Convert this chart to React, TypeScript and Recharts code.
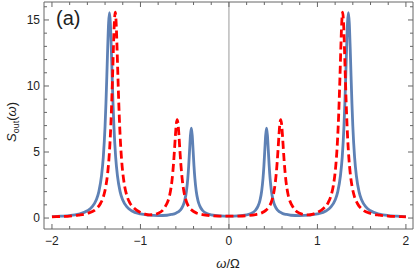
import React from 'react';
import { LineChart, Line, XAxis, YAxis, ReferenceLine } from 'recharts';

// ---- data ----
const blueOmega = [
  -2, -1.9, -1.8, -1.7, -1.6, -1.55, -1.5, -1.47, -1.44, -1.42,
  -1.4, -1.39, -1.38, -1.37, -1.36, -1.35, -1.34, -1.33, -1.32, -1.31,
  -1.3, -1.28, -1.26, -1.23, -1.2, -1.15, -1.1, -1.0, -0.9, -0.8,
  -0.7, -0.65, -0.6, -0.55, -0.52, -0.5, -0.48, -0.465, -0.455, -0.445,
  -0.435, -0.425, -0.415, -0.405, -0.395, -0.385, -0.37, -0.35, -0.33, -0.3,
  -0.25, -0.2, -0.1, 0,
  0.1, 0.2, 0.25, 0.3, 0.33, 0.35, 0.37, 0.385, 0.395, 0.405,
  0.415, 0.425, 0.435, 0.445, 0.455, 0.465, 0.48, 0.5, 0.52, 0.55,
  0.6, 0.65, 0.7, 0.8, 0.9, 1.0, 1.1, 1.15, 1.2, 1.23,
  1.26, 1.28, 1.3, 1.31, 1.32, 1.33, 1.34, 1.35, 1.36, 1.37,
  1.38, 1.39, 1.4, 1.42, 1.44, 1.47, 1.5, 1.55, 1.6, 1.7,
  1.8, 1.9, 2.0,
];
const blueS = [
  0.10, 0.14, 0.19, 0.30, 0.55, 0.82, 1.36, 2.0, 3.2, 4.6,
  6.95, 8.67, 10.74, 12.94, 14.76, 15.55, 14.77, 12.95, 10.75, 8.68,
  6.96, 4.6, 3.2, 2.0, 1.36, 0.82, 0.55, 0.31, 0.22, 0.19,
  0.21, 0.27, 0.37, 0.6, 0.92, 1.32, 2.05, 3.0, 3.93, 5.12,
  6.26, 6.8, 6.26, 5.12, 3.93, 3.0, 2.05, 1.32, 0.92, 0.59,
  0.34, 0.24, 0.16, 0.14,
  0.16, 0.24, 0.34, 0.59, 0.92, 1.32, 2.05, 3.0, 3.93, 5.12,
  6.26, 6.8, 6.26, 5.12, 3.93, 3.0, 2.05, 1.32, 0.92, 0.6,
  0.37, 0.27, 0.21, 0.19, 0.22, 0.31, 0.55, 0.82, 1.36, 2.0,
  3.2, 4.6, 6.96, 8.68, 10.75, 12.95, 14.77, 15.55, 14.76, 12.94,
  10.74, 8.67, 6.95, 4.6, 3.2, 2.0, 1.36, 0.82, 0.55, 0.30,
  0.19, 0.14, 0.10,
];
const redOmega = [
  -2, -1.9, -1.8, -1.7, -1.6, -1.5, -1.45, -1.42, -1.39, -1.37,
  -1.355, -1.345, -1.335, -1.325, -1.315, -1.305, -1.295, -1.285, -1.275, -1.265,
  -1.255, -1.245, -1.235, -1.225, -1.215, -1.2, -1.18, -1.15, -1.12, -1.07,
  -1.0, -0.95, -0.9, -0.85, -0.8, -0.75, -0.72, -0.69, -0.67, -0.655,
  -0.645, -0.635, -0.625, -0.615, -0.605, -0.595, -0.585, -0.575, -0.565, -0.555,
  -0.545, -0.535, -0.525, -0.515, -0.5, -0.48, -0.45, -0.42, -0.37, -0.3,
  -0.2, -0.1, 0,
  0.1, 0.2, 0.3, 0.37, 0.42, 0.45, 0.48, 0.5, 0.515, 0.525,
  0.535, 0.545, 0.555, 0.565, 0.575, 0.585, 0.595, 0.605, 0.615, 0.625,
  0.635, 0.645, 0.655, 0.67, 0.69, 0.72, 0.75, 0.8, 0.85, 0.9,
  0.95, 1.0, 1.07, 1.12, 1.15, 1.18, 1.2, 1.215, 1.225, 1.235,
  1.245, 1.255, 1.265, 1.275, 1.285, 1.295, 1.305, 1.315, 1.325, 1.335,
  1.345, 1.355, 1.37, 1.39, 1.42, 1.45, 1.5, 1.6, 1.7, 1.8,
  1.9, 2.0,
];
const redS = [
  0.09, 0.12, 0.15, 0.22, 0.35, 0.69, 1.12, 1.59, 2.45, 3.43,
  4.57, 5.62, 6.98, 8.70, 10.77, 12.98, 14.81, 15.6, 14.83, 13.0,
  10.79, 8.72, 7.0, 5.64, 4.59, 3.45, 2.47, 1.62, 1.15, 0.74,
  0.42, 0.3, 0.24, 0.26, 0.36, 0.58, 0.87, 1.27, 1.73, 2.27,
  2.76, 3.41, 4.22, 5.21, 6.26, 7.12, 7.45, 7.11, 6.25, 5.2,
  4.21, 3.4, 2.75, 2.25, 1.70, 1.23, 0.82, 0.6, 0.39, 0.26,
  0.18, 0.15, 0.14,
  0.15, 0.18, 0.26, 0.39, 0.6, 0.82, 1.23, 1.70, 2.25, 2.75,
  3.4, 4.21, 5.2, 6.25, 7.11, 7.45, 7.12, 6.26, 5.21, 4.22,
  3.41, 2.76, 2.27, 1.73, 1.27, 0.87, 0.58, 0.36, 0.26, 0.24,
  0.3, 0.42, 0.74, 1.15, 1.62, 2.47, 3.45, 4.59, 5.64, 7.0,
  8.72, 10.79, 13.0, 14.83, 15.6, 14.81, 12.98, 10.77, 8.70, 6.98,
  5.62, 4.57, 3.43, 2.45, 1.59, 1.12, 0.69, 0.35, 0.22, 0.15,
  0.12, 0.09,
];

const xTicks = [-2, -1.8, -1.6, -1.4, -1.2, -1, -0.8, -0.6, -0.4, -0.2, 0, 0.2, 0.4, 0.6, 0.8, 1, 1.2, 1.4, 1.6, 1.8, 2];
const xMajor = [-2, -1, 0, 1, 2];
const yTicks = [0, 1, 2, 3, 4, 5, 6, 7, 8, 9, 10, 11, 12, 13, 14, 15, 16];
const yMajor = [0, 5, 10, 15];

const blueData = blueOmega.map((x, i) => ({ x, y: blueS[i] }));
const redData = redOmega.map((x, i) => ({ x, y: redS[i] }));

const FRAME = '#666';
const TEXT = '#222';
const FONT = '"Liberation Sans", Arial, sans-serif';

const fmt = (v: number) => (v < 0 ? '\u2212' + Math.abs(v) : String(v));

const BottomTick = (p: any) => {
  const v = p.payload.value;
  const major = xMajor.includes(v);
  return (
    <g>
      <line x1={p.x} x2={p.x} y1={p.y} y2={p.y - (major ? 5 : 3)} stroke={FRAME} strokeWidth={1} />
      {major && (
        <text x={p.x} y={p.y + 16} textAnchor="middle" fontSize={12} fontFamily={FONT} fill={TEXT}>
          {fmt(v)}
        </text>
      )}
    </g>
  );
};
const TopTick = (p: any) => {
  const v = p.payload.value;
  const major = xMajor.includes(v);
  return <line x1={p.x} x2={p.x} y1={p.y} y2={p.y + (major ? 5 : 3)} stroke={FRAME} strokeWidth={1} />;
};
const LeftTick = (p: any) => {
  const v = p.payload.value;
  const major = yMajor.includes(v);
  return (
    <g>
      <line x1={p.x} x2={p.x + (major ? 5 : 3)} y1={p.y} y2={p.y} stroke={FRAME} strokeWidth={1} />
      {major && (
        <text x={p.x - 4} y={p.y + 4.3} textAnchor="end" fontSize={12} fontFamily={FONT} fill={TEXT}>
          {fmt(v)}
        </text>
      )}
    </g>
  );
};
const RightTick = (p: any) => {
  const v = p.payload.value;
  const major = yMajor.includes(v);
  return <line x1={p.x} x2={p.x - (major ? 5 : 3)} y1={p.y} y2={p.y} stroke={FRAME} strokeWidth={1} />;
};

const X_DOMAIN: [number, number] = [-2.09, 2.08];
const Y_DOMAIN: [number, number] = [-0.83, 16.36];

export default function App() {
  return (
    <div style={{ position: 'absolute', left: 0, top: 0, width: 415, height: 275, background: '#fff' }}>
      <LineChart width={415} height={275} margin={{ top: 1, right: 1, bottom: 0, left: 0 }}>
        <XAxis
          xAxisId="b"
          type="number"
          dataKey="x"
          domain={X_DOMAIN}
          allowDataOverflow
          ticks={xTicks}
          interval={0}
          height={46}
          tickSize={0}
          tickMargin={0}
          tickLine={false}
          axisLine={{ stroke: FRAME }}
          tick={BottomTick}
        />
        <XAxis
          xAxisId="t"
          orientation="top"
          type="number"
          dataKey="x"
          domain={X_DOMAIN}
          allowDataOverflow
          ticks={xTicks}
          interval={0}
          height={1}
          tickSize={0}
          tickMargin={0}
          tickLine={false}
          axisLine={{ stroke: FRAME }}
          tick={TopTick}
        />
        <YAxis
          yAxisId="l"
          type="number"
          domain={Y_DOMAIN}
          allowDataOverflow
          ticks={yTicks}
          interval={0}
          width={44}
          tickSize={0}
          tickMargin={0}
          tickLine={false}
          axisLine={{ stroke: FRAME }}
          tick={LeftTick}
        />
        <YAxis
          yAxisId="r"
          orientation="right"
          type="number"
          domain={Y_DOMAIN}
          allowDataOverflow
          ticks={yTicks}
          interval={0}
          width={1}
          tickSize={0}
          tickMargin={0}
          tickLine={false}
          axisLine={{ stroke: FRAME }}
          tick={RightTick}
        />
        <ReferenceLine xAxisId="b" yAxisId="l" x={0} stroke="#999" strokeWidth={1} />
        <Line
          xAxisId="b"
          yAxisId="l"
          data={blueData}
          dataKey="y"
          type="monotone"
          stroke="#5E81B5"
          strokeWidth={2.8}
          dot={false}
          activeDot={false}
          isAnimationActive={false}
        />
        <Line
          xAxisId="b"
          yAxisId="l"
          data={redData}
          dataKey="y"
          type="monotone"
          stroke="#FF0000"
          strokeWidth={2.8}
          strokeDasharray="8 4"
          dot={false}
          activeDot={false}
          isAnimationActive={false}
        />
      </LineChart>
      <svg
        width={415}
        height={275}
        style={{ position: 'absolute', left: 0, top: 0, pointerEvents: 'none' }}
      >
        <text x={56} y={25} fontSize={20} fontFamily={FONT} fill={TEXT}>
          (a)
        </text>
        <text
          transform="translate(16,122) rotate(-90)"
          textAnchor="middle"
          fontSize={13}
          fontFamily={FONT}
          fill={TEXT}
        >
          <tspan fontStyle="italic">S</tspan>
          <tspan fontSize={9} dy={3}>out</tspan>
          <tspan dy={-3}>(</tspan>
          <tspan fontStyle="italic">ω</tspan>
          <tspan>)</tspan>
        </text>
        <text x={228} y={268} textAnchor="middle" fontSize={13} fontFamily={FONT} fill={TEXT}>
          <tspan fontStyle="italic">ω</tspan>
          <tspan>/Ω</tspan>
        </text>
      </svg>
    </div>
  );
}
